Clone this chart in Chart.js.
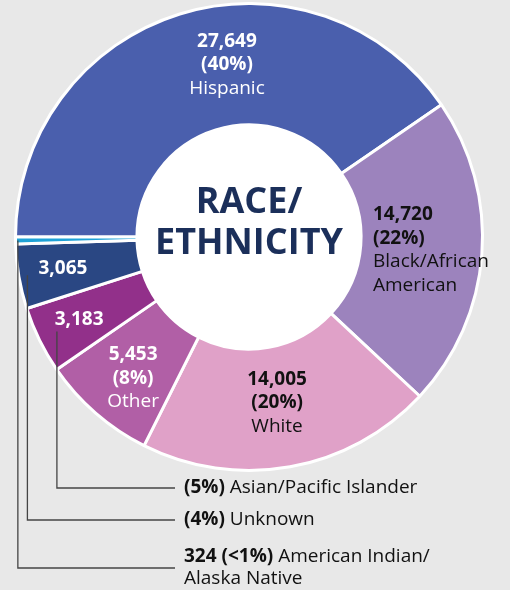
<!DOCTYPE html>
<html>
<head>
<meta charset="utf-8">
<script src="https://cdn.jsdelivr.net/npm/chart.js@4/dist/chart.umd.min.js"></script>
<style>
  html, body { margin: 0; padding: 0; background: #e8e8e8; }
  #wrap { width: 510px; height: 590px; position: relative; }
</style>
</head>
<body>
<div id="wrap"><canvas id="myChart"></canvas></div>
<script>
let categories = ['Hispanic', 'Black/African American', 'White', 'Other', 'Asian/Pacific Islander', 'Unknown', 'American Indian/Alaska Native'];
let counts = [27649, 14720, 14005, 5453, 3183, 3065, 324];
let countLabels = ['27,649', '14,720', '14,005', '5,453', '3,183', '3,065', '324'];
let shareLabels = ['(40%)', '(22%)', '(20%)', '(8%)', '(5%)', '(4%)', '(<1%)'];
let colors = ['#4a5fad', '#9c83bd', '#e0a1c8', '#b15fa6', '#92308a', '#2a4783', '#1fa2d6'];

const FONT = "'Open Sans', 'DejaVu Sans', sans-serif";
const DARK = '#111111';
const SIZE = '19px ';

// text inside slices: [angle from top (deg), radius as share of outer radius, align, color, lines]
let inside = [
    [-7.3, 0.743, 'center', '#fff', [[countLabels[0], 1], [shareLabels[0], 1], ['Hispanic', 0]]],
    [96, 0.534, 'left', DARK, [[countLabels[1], 1], [shareLabels[1], 1], ['Black/African', 0], ['American', 0]]],
    [170.4, 0.721, 'center', DARK, [[countLabels[2], 1], [shareLabels[2], 1], ['White', 0]]],
    [219.4, 0.782, 'center', '#fff', [[countLabels[3], 1], [shareLabels[3], 1], ['Other', 0]]],
    [244.2, 0.808, 'center', '#fff', [[countLabels[4], 1]]],
    [260.5, 0.808, 'center', '#fff', [[countLabels[5], 1]]]
];

// callouts for small slices: [slice index, start radius share, row y, bold part, rest, second line]
let callouts = [
    [4, 0.917, 488, shareLabels[4], 'Asian/Pacific Islander', null],
    [5, 0.963, 520, shareLabels[5], 'Unknown', null],
    [6, 0.99, 568, countLabels[6] + ' ' + shareLabels[6], 'American Indian/', 'Alaska Native']
];

function polar(arc, deg, frac) {
    let r = arc.outerRadius * frac;
    let a = deg * Math.PI / 180;
    return { x: arc.x + r * Math.sin(a), y: arc.y - r * Math.cos(a) };
}

let decorations = {
    id: 'decorations',
    beforeDatasetsDraw(chart) {
        let ctx = chart.ctx;
        let arc = chart.getDatasetMeta(0).data[0];
        ctx.save();
        ctx.fillStyle = '#fff';
        ctx.beginPath();
        ctx.arc(arc.x, arc.y, arc.innerRadius + 1, 0, Math.PI * 2);
        ctx.fill();
        ctx.restore();
    },
    afterDatasetsDraw(chart) {
        let ctx = chart.ctx;
        let arcs = chart.getDatasetMeta(0).data;
        let arc = arcs[0];
        ctx.save();
        ctx.textBaseline = 'middle';

        // centre title
        ctx.fillStyle = '#1b2f5a';
        ctx.textAlign = 'center';
        ctx.font = 'bold 36px ' + FONT;
        ctx.fillText('RACE/', arc.x, arc.y - 34);
        ctx.fillText('ETHNICITY', arc.x, arc.y + 7);

        // slice labels
        inside.forEach(item => {
            let [deg, frac, align, color, lines] = item;
            let p = polar(arc, deg, frac);
            let lh = 23.5;
            let y0 = p.y - (lines.length - 1) * lh / 2;
            ctx.fillStyle = color;
            ctx.textAlign = align;
            lines.forEach((ln, i) => {
                ctx.font = (ln[1] ? 'bold ' : '') + SIZE + FONT;
                ctx.fillText(ln[0], p.x, y0 + i * lh);
            });
        });

        // callouts
        callouts.forEach(c => {
            let [idx, frac, rowY, boldPart, rest, second] = c;
            let a = arcs[idx];
            let mid = ((a.startAngle + a.endAngle) / 2) * 180 / Math.PI + 90;
            let p = polar(a, mid, frac);
            ctx.strokeStyle = '#444';
            ctx.lineWidth = 1.3;
            ctx.beginPath();
            ctx.moveTo(p.x, p.y);
            ctx.lineTo(p.x, rowY);
            ctx.lineTo(175, rowY);
            ctx.stroke();

            let textY = second ? rowY - 11 : rowY;
            ctx.fillStyle = DARK;
            ctx.textAlign = 'left';
            ctx.font = 'bold ' + SIZE + FONT;
            ctx.fillText(boldPart, 184, textY);
            let w = ctx.measureText(boldPart + ' ').width;
            ctx.font = SIZE + FONT;
            ctx.fillText(rest, 184 + w, textY);
            if (second) ctx.fillText(second, 184, rowY + 11);
        });
        ctx.restore();
    }
};

let chart = new Chart(document.getElementById('myChart').getContext('2d'), {
    type: 'doughnut',
    data: {
        labels: categories,
        datasets: [{
            data: counts,
            backgroundColor: colors,
            borderColor: '#ffffff',
            borderWidth: 3
        }]
    },
    options: {
        responsive: true,
        maintainAspectRatio: false,
        animation: false,
        events: [],
        rotation: 270,
        cutout: '48%',
        layout: { padding: { left: 14, top: 2, right: 26, bottom: 118 } },
        plugins: {
            legend: { display: false },
            tooltip: { enabled: false },
            title: { display: false }
        }
    },
    plugins: [decorations]
});
</script>
</body>
</html>
